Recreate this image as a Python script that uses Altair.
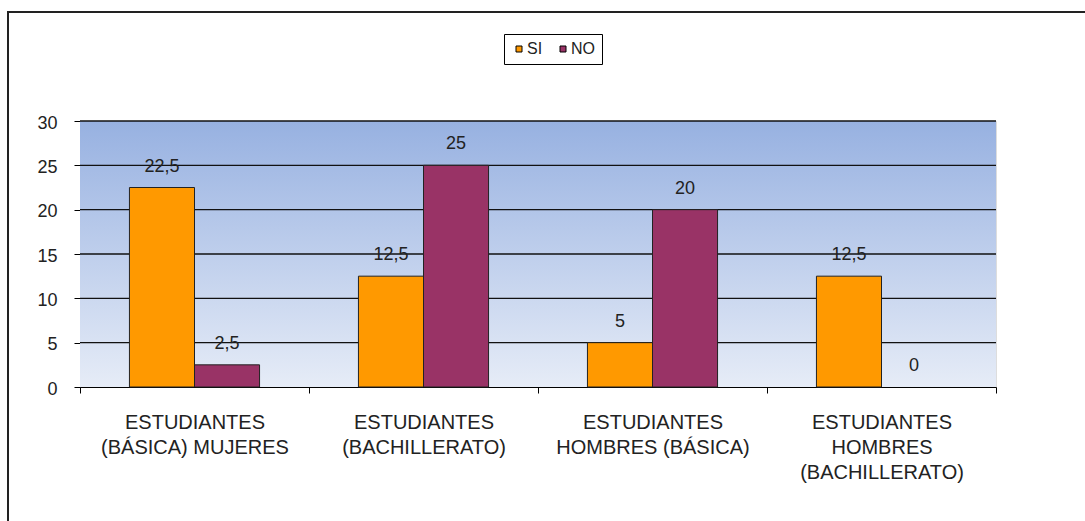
import altair as alt
import pandas as pd

categories = [
    "ESTUDIANTES\n(BÁSICA) MUJERES",
    "ESTUDIANTES\n(BACHILLERATO)",
    "ESTUDIANTES\nHOMBRES (BÁSICA)",
    "ESTUDIANTES\nHOMBRES\n(BACHILLERATO)",
]
series = ["SI", "NO"]
si_values = [22.5, 12.5, 5, 12.5]
no_values = [2.5, 25, 20, 0]
colors = ["#FF9900", "#993366"]
y_ticks = [0, 5, 10, 15, 20, 25, 30]
grid_values = [5, 10, 15, 20, 25, 30]

rows = []
for c, s, n in zip(categories, si_values, no_values):
    rows.append({"cat": c, "serie": "SI", "valor": s})
    rows.append({"cat": c, "serie": "NO", "valor": n})
df = pd.DataFrame(rows)

W, H = 916, 266
FONT = "Liberation Sans"

ysc = alt.Scale(domain=[0, 30], nice=False, zero=True)
xsc = alt.Scale(domain=categories, paddingInner=0, paddingOuter=0)
xoff = alt.Scale(domain=series, paddingInner=0, paddingOuter=0.76)

yaxis = alt.Axis(values=y_ticks, grid=False, domainColor="#000", domainWidth=1,
                 tickColor="#000", tickSize=6, labelFontSize=18, labelPadding=17,
                 labelColor="#222", labelFont=FONT, title=None, labelOffset=2)
xaxis = alt.Axis(title=None, labelAngle=0, tickBand="extent", tickSize=6,
                 domainColor="#000", tickColor="#000", labelFontSize=20,
                 labelLineHeight=25, labelFont=FONT, labelColor="#222",
                 labelExpr="split(datum.label, '\\n')", labelPadding=19,
                 labelLimit=400)

bg = alt.Chart(pd.DataFrame({"a": [0]})).mark_rect(
    color=alt.LinearGradient(
        gradient="linear",
        stops=[alt.GradientStop(color="#97B1E1", offset=0),
               alt.GradientStop(color="#E6ECF7", offset=1)],
        x1=0, x2=0, y1=0, y2=1,
    )
).encode(x=alt.value(0), x2=alt.value(W), y=alt.value(0), y2=alt.value(H))

grid = alt.Chart(pd.DataFrame({"v": grid_values})).mark_rule(
    color="#111", strokeWidth=1.3
).encode(
    y=alt.Y("v:Q", scale=ysc, axis=yaxis),
    x=alt.value(0), x2=alt.value(W),
)

base = alt.Chart(df).encode(
    x=alt.X("cat:N", scale=xsc, axis=xaxis, sort=categories),
    xOffset=alt.XOffset("serie:N", scale=xoff, sort=series),
    y=alt.Y("valor:Q", scale=ysc, axis=yaxis),
)

bars = base.transform_filter("datum.valor > 0").mark_bar(
    stroke="#222", strokeWidth=1
).encode(
    color=alt.Color(
        "serie:N",
        scale=alt.Scale(domain=series, range=colors),
        sort=series,
        legend=alt.Legend(
            title=None, orient="none", legendX=424, legendY=-87,
            direction="horizontal", symbolType="square", symbolSize=36,
            symbolStrokeColor="#000", symbolStrokeWidth=1,
            labelFontSize=16, labelFont=FONT, labelColor="#222",
            labelOffset=0, columnPadding=12, padding=7,
            strokeColor="#000", fillColor="white",
        ),
    )
)

labels = base.transform_calculate(
    label="replace(toString(datum.valor), '.', ',')"
).mark_text(dy=-21, baseline="middle", fontSize=18, font=FONT, color="#222").encode(
    text="label:N"
)

frame = alt.Chart(pd.DataFrame({"a": [0]})).mark_rect(
    fill="white", fillOpacity=0, stroke="#222", strokeWidth=2
).encode(x=alt.value(-72), x2=alt.value(1100), y=alt.value(-109), y2=alt.value(500))

chart = alt.layer(bg, grid, bars, labels, frame).properties(
    width=W, height=H,
    autosize=alt.AutoSizeParams(type="none"),
    padding={"left": 80, "top": 121, "right": 89, "bottom": 134},
).configure_view(stroke=None).configure(background="white", font=FONT)

chart.save("out.html", embed_options={"renderer": "svg", "actions": False})
